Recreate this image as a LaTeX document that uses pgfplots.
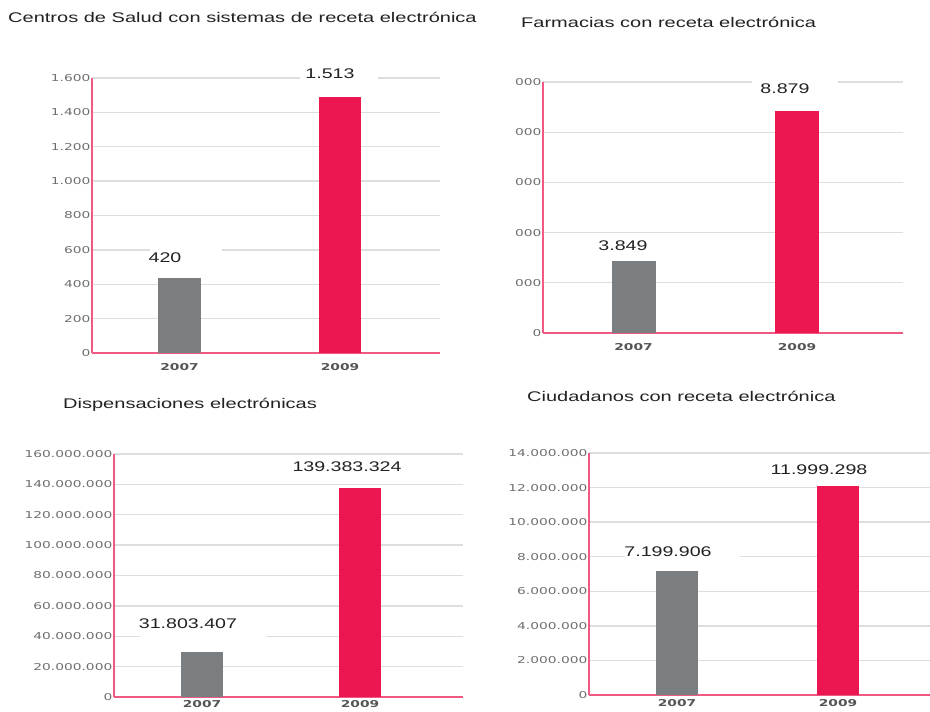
\documentclass[border=0pt]{standalone}
\usepackage{fontspec}
\usepackage{pgfplots}
\pgfplotsset{compat=1.18}
\setmainfont{Liberation Sans}
\newfontfamily\titlef[FakeStretch=1.4]{Liberation Sans}
\newfontfamily\headf[FakeStretch=1.43]{Liberation Sans}
\newfontfamily\tickf[FakeStretch=1.45]{DejaVu Sans}
\definecolor{barG}{HTML}{7B7E81}
\definecolor{barP}{HTML}{EC1750}
\definecolor{axP}{HTML}{F05A82}
\definecolor{gridG}{HTML}{DEDEDE}
\definecolor{tickG}{HTML}{6E6E6E}
\definecolor{yearG}{HTML}{555555}
\definecolor{txtC}{HTML}{222222}
\newcommand{\tfont}{\titlef\fontsize{14bp}{16bp}\selectfont}
\newcommand{\hfont}{\headf\fontsize{14bp}{16bp}\selectfont}
\pgfplotsset{
  panel/.style={
    scale only axis, anchor=south west,
    axis x line*=bottom, axis y line*=left,
    axis line style={axP, line width=1.8bp},
    ymin=0, xmin=0,
    major tick length=0pt,
    scaled y ticks=false,
    ymajorgrids, grid style={gridG, line width=1.3bp},
    tick label style={font=\tickf\fontsize{9.5bp}{10bp}\selectfont, text=tickG},
    yticklabel style={inner sep=1.5bp},
    xticklabel style={font=\tickf\bfseries\fontsize{9.5bp}{10bp}\selectfont, text=yearG, inner sep=0pt, yshift=-10bp},
    xticklabels={2007,2009},
    clip=false,
  },
  gbar/.style={ybar, bar shift=0pt, fill=barG, draw=none},
  pbar/.style={ybar, bar shift=0pt, fill=barP, draw=none},
}
\begin{document}
\begin{tikzpicture}
\path[use as bounding box] (0,0) rectangle (930bp,712bp);
\clip (0,0) rectangle (930bp,712bp);
% Top-left
\begin{axis}[panel, at={(92bp,359bp)}, width=348bp, height=275bp,
  xmax=348, ymax=1600, xtick={87.5,248},
  ytick={0,200,400,600,800,1000,1200,1400,1600},
  yticklabels={0,200,400,600,800,1.000,1.200,1.400,1.600}]
\addplot[gbar, bar width=43bp] coordinates {(87.5,436)};
\addplot[pbar, bar width=42bp] coordinates {(248,1489)};
\end{axis}
% Top-right
\begin{axis}[panel, at={(543bp,379bp)}, width=360bp, height=251bp,
  xmax=360, ymax=10000, xtick={90.5,254},
  ytick={0,2000,4000,6000,8000,10000},
  yticklabels={0,2.000,4.000,6.000,8.000,10.000}]
\addplot[gbar, bar width=44bp] coordinates {(90.5,2857)};
\addplot[pbar, bar width=44bp] coordinates {(254,8849)};
\end{axis}
% Bottom-left
\begin{axis}[panel, at={(114bp,15bp)}, width=349bp, height=243bp,
  xmax=349, ymax=160000000, xtick={88,246},
  xticklabel style={yshift=7bp},
  ytick={0,20000000,40000000,60000000,80000000,100000000,120000000,140000000,160000000},
  yticklabels={0,20.000.000,40.000.000,60.000.000,80.000.000,100.000.000,120.000.000,140.000.000,160.000.000}]
\addplot[gbar, bar width=42bp] coordinates {(88,29600000)};
\addplot[pbar, bar width=42bp] coordinates {(246,137600000)};
\end{axis}
% Bottom-right
\begin{axis}[panel, at={(589bp,17bp)}, width=341bp, height=242bp,
  xmax=341, ymax=14000000, xtick={88,249},
  xticklabel style={yshift=6bp},
  ytick={0,2000000,4000000,6000000,8000000,10000000,12000000,14000000},
  yticklabels={0,2.000.000,4.000.000,6.000.000,8.000.000,10.000.000,12.000.000,14.000.000}]
\addplot[gbar, bar width=42bp] coordinates {(88,7170000)};
\addplot[pbar, bar width=42bp] coordinates {(249,12090000)};
\end{axis}
% crop of the top-right tick labels
\fill[white] (478bp,415bp) rectangle (514.5bp,645bp);
% white boxes behind value labels
\fill[white] (150bp,444bp) rectangle (222bp,466bp);
\fill[white] (300bp,628bp) rectangle (378bp,648bp);
\fill[white] (752bp,622bp) rectangle (838bp,640bp);
\fill[white] (140bp,68bp) rectangle (266bp,96bp);
\fill[white] (625bp,148bp) rectangle (740bp,172bp);
% value labels
\begin{scope}[every node/.style={font=\tfont, text=txtC, inner sep=0pt}]
\node at (165bp,454bp) {420};
\node at (330bp,638bp) {1.513};
\node at (623bp,466bp) {3.849};
\node at (785bp,623bp) {8.879};
\node at (188bp,88bp) {31.803.407};
\node at (347bp,245bp) {139.383.324};
\node at (668bp,160bp) {7.199.906};
\node at (819bp,242bp) {11.999.298};
\end{scope}
% titles
\begin{scope}[every node/.style={font=\hfont, text=txtC, inner sep=0pt}]
\node[anchor=base west] at (8bp,689bp) {Centros de Salud con sistemas de receta electrónica};
\node[anchor=base west] at (521bp,684bp) {Farmacias con receta electrónica};
\node[anchor=base west] at (63bp,303bp) {Dispensaciones electrónicas};
\node[anchor=base west] at (527bp,310bp) {Ciudadanos con receta electrónica};
\end{scope}
\end{tikzpicture}
\end{document}
